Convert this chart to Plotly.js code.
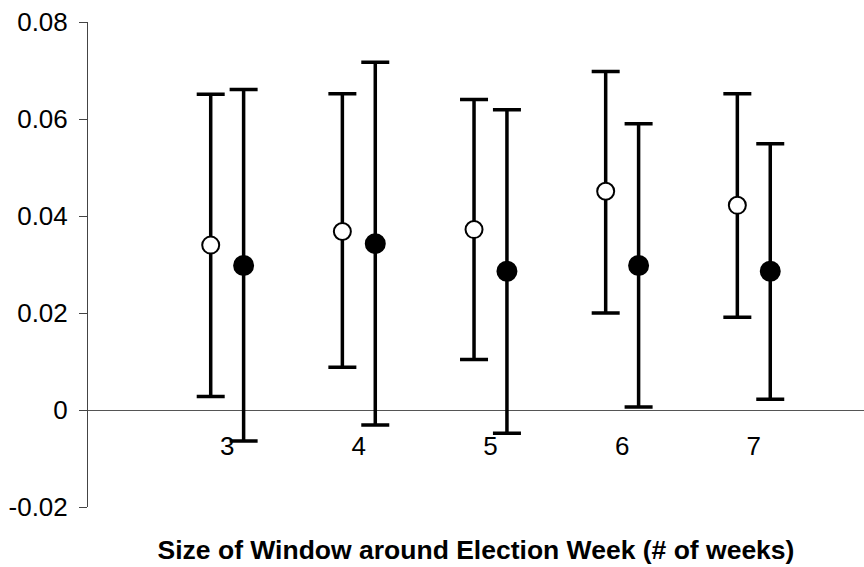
<!DOCTYPE html>
<html>
<head>
<meta charset="utf-8">
<script src="https://cdn.plot.ly/plotly-3.0.1.min.js"></script>
<style>html,body{margin:0;padding:0;background:#fff;}#chart{width:864px;height:567px;}</style>
</head>
<body>
<div id="chart"></div>
<script>
// Window sizes (weeks)
const windows = [3, 4, 5, 6, 7];
// Series A (open circles)
const openMean  = [0.0340, 0.0368, 0.0372, 0.0451, 0.0422];
const openUpper = [0.0651, 0.0652, 0.0640, 0.0698, 0.0652];
const openLower = [0.0028, 0.0088, 0.0104, 0.0200, 0.0191];
// Series B (filled circles)
const fillMean  = [0.0298, 0.0343, 0.0286, 0.0298, 0.0286];
const fillUpper = [0.0661, 0.0717, 0.0619, 0.0590, 0.0549];
const fillLower = [-0.0064, -0.0031, -0.0048, 0.0006, 0.0022];
const yTicks = [-0.02, 0, 0.02, 0.04, 0.06, 0.08];
const yTickText = ['-0.02', '0', '0.02', '0.04', '0.06', '0.08'];

const offset = 0.125;
const font = 'Liberation Sans, Arial, sans-serif';

function trace(means, upper, lower, shift, filled) {
  return {
    type: 'scatter',
    mode: 'markers',
    x: windows.map(w => w + shift),
    y: means,
    marker: {
      symbol: 'circle',
      size: filled ? 19 : 17,
      color: filled ? '#000' : '#fff',
      line: {color: '#000', width: 2}
    },
    error_y: {
      type: 'data',
      symmetric: false,
      array: upper.map((u, i) => u - means[i]),
      arrayminus: lower.map((l, i) => means[i] - l),
      color: '#000',
      thickness: 3.5,
      width: 14
    },
    showlegend: false,
    hoverinfo: 'x+y'
  };
}

const data = [
  trace(openMean, openUpper, openLower, -offset, false),
  trace(fillMean, fillUpper, fillLower, offset, true)
];

const layout = {
  width: 864,
  height: 567,
  margin: {l: 88, r: 0, t: 22, b: 60},
  paper_bgcolor: '#fff',
  plot_bgcolor: '#fff',
  font: {family: font, color: '#000', size: 26},
  showlegend: false,
  xaxis: {
    range: [1.943, 7.837],
    tickvals: windows,
    ticktext: windows.map(String),
    anchor: 'free',
    position: 0.198,
    showline: false,
    showgrid: false,
    zeroline: false,
    ticks: 'outside',
    ticklen: 12,
    tickcolor: 'rgba(0,0,0,0)',
    tickfont: {family: font, size: 26, color: '#000'},
    title: {
      text: '<b>Size of Window around Election Week (# of weeks)</b>',
      font: {family: font, size: 26.5, color: '#000'},
      standoff: 80
    }
  },
  yaxis: {
    range: [-0.02, 0.08],
    tickvals: yTicks,
    ticktext: yTickText,
    showgrid: false,
    showline: true,
    linecolor: '#444',
    linewidth: 1,
    ticks: 'outside',
    ticklen: 8,
    tickcolor: '#444',
    ticklabelstandoff: 6,
    tickfont: {family: font, size: 26, color: '#000'},
    zeroline: true,
    zerolinecolor: '#555',
    zerolinewidth: 1
  }
};

Plotly.newPlot('chart', data, layout, {displayModeBar: false, staticPlot: true});
</script>
</body>
</html>
